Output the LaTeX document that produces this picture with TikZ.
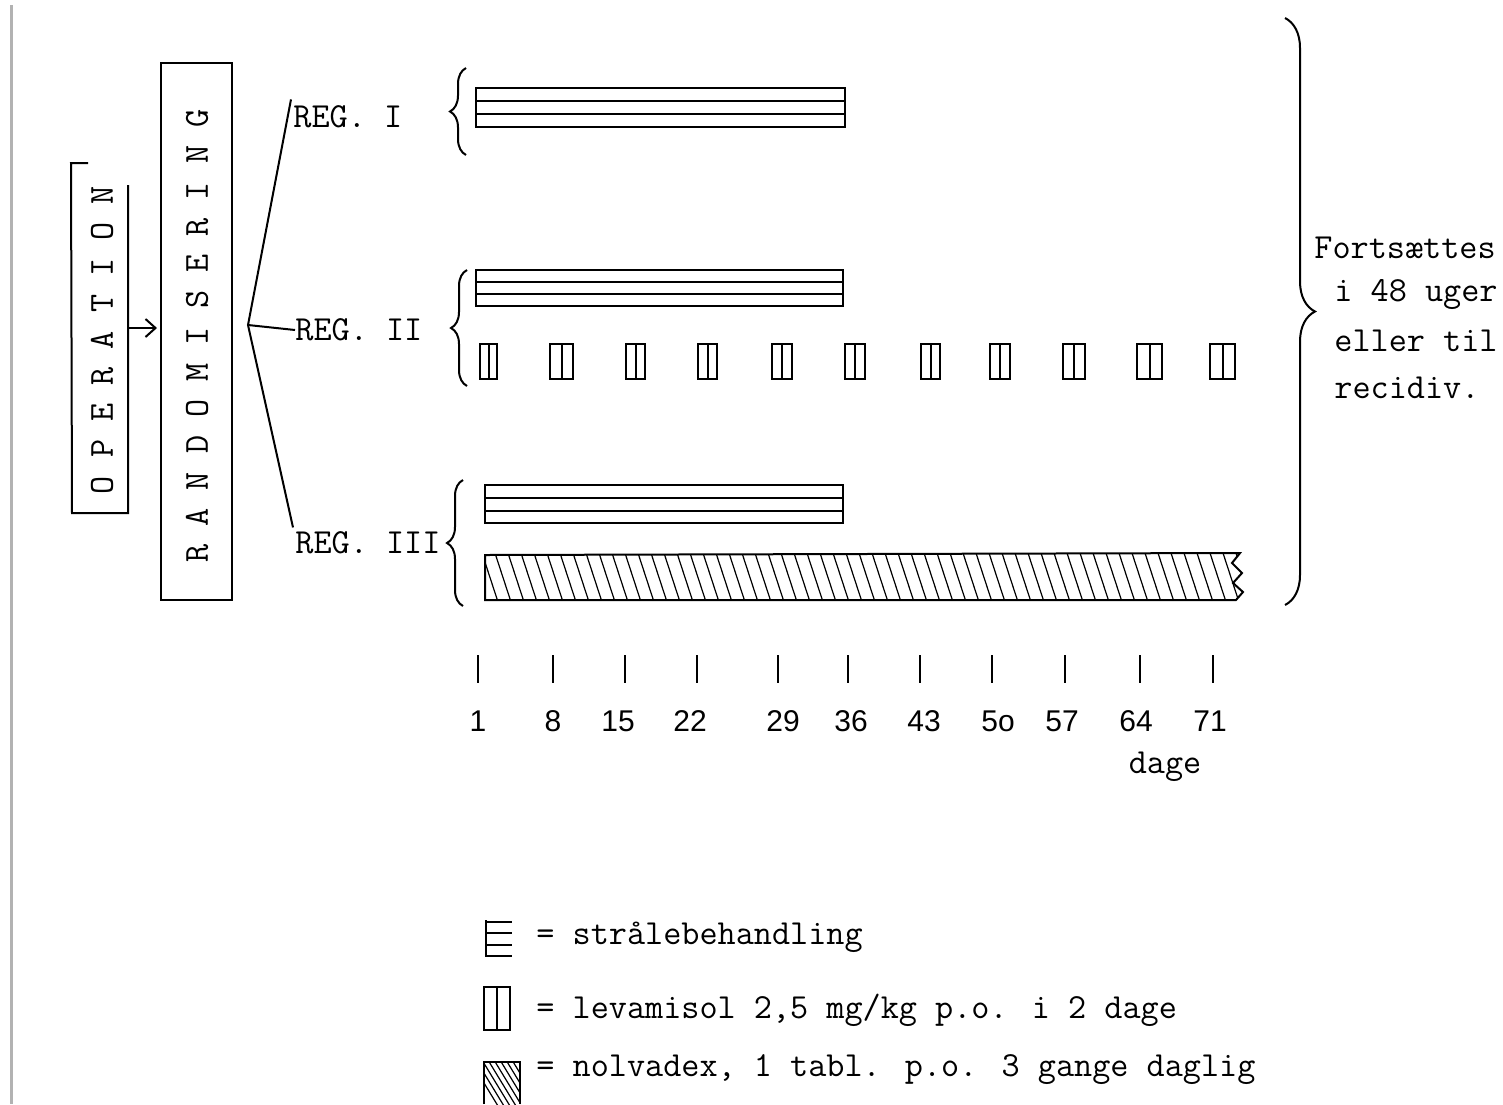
\documentclass[tikz,border=0pt]{standalone}
\usepackage{fontspec}
\newfontfamily\numfont{Liberation Sans}
\usetikzlibrary{decorations.pathreplacing,arrows.meta}
\begin{document}
\begin{tikzpicture}[x=0.5pt,y=-0.5pt,
  tw/.style={font=\fontsize{17.6}{20}\selectfont\ttfamily, inner sep=0pt},
  nums/.style={font=\fontsize{15}{18}\selectfont\numfont, inner sep=0pt},
  ln/.style={line width=1pt},
  hatch/.style={line width=0.6pt},
  bracestyle/.style={ln, decorate, decoration={brace, amplitude=#1}},
  lev/.style={ln}]
\useasboundingbox[fill=white] (0,0) rectangle (1503,1104);

% page edge
\draw[gray!60, line width=1.5pt] (11,5) -- (11,1104);

% OPERATION (open box)
\node[tw, rotate=90] (op) at (102,340) {O P E R A T I O N};
\draw[ln] (88,163) -- (71,163) -- (72,513) -- (128,513) -- (128,185);

% RANDOMISERING
\draw[ln] (161,63) rectangle (232,600);
\node[tw, rotate=90] (rand) at (197,336) {R A N D O M I S E R I N G};
\coordinate (opR) at (128,328);
\coordinate (randL) at (157,328);
\draw[ln, -{Straight Barb[length=5pt,width=9pt]}] (opR) -- (randL);

% regimen labels
\node[tw, anchor=west] (reg1) at (293,117) {REG. I};
\node[tw, anchor=west] (reg2) at (295,330) {REG. II};
\node[tw, anchor=west] (reg3) at (295,543) {REG. III};
\coordinate (br) at (248,325);
\draw[ln] ([xshift=-1pt,yshift=3pt]reg1.north west) -- (br) -- ([xshift=-1pt,yshift=2pt]reg3.north west);
\draw[ln] (br) -- (reg2.west);

% small braces
\draw[bracestyle=8pt] (466,155) -- (466,68);
\draw[bracestyle=8pt] (467,386) -- (467,270);
\draw[bracestyle=8pt] (463,606) -- (463,480);

% radiation bars
\draw[ln] (476,88) rectangle (845,127);
\draw[ln] (476,101) -- (845,101);
\draw[ln] (476,114) -- (845,114);
\draw[ln] (476,270) rectangle (843,306);
\draw[ln] (476,282) -- (843,282);
\draw[ln] (476,294) -- (843,294);
\draw[ln] (485,485) rectangle (843,523);
\draw[ln] (485,498) -- (843,498);
\draw[ln] (485,511) -- (843,511);

% levamisol boxes
\foreach \a/\b in {480/497,550/573,626/645,698/717,772/792,845/865,921/940,990/1010,1063/1085,1137/1162,1210/1235}{
  \draw[lev] (\a,344) rectangle (\b,379);
  \draw[lev] ({(\a+\b)/2},344) -- ({(\a+\b)/2},379);
}

% nolvadex bar
\begin{scope}
\clip (485,555) -- (1240,553) -- (1232,563) -- (1242,573) -- (1233,583) -- (1243,592) -- (1236,600) -- (485,600) -- cycle;
\foreach \i in {0,...,60}{
  \draw[hatch] ({468+\i*13},550) -- ({486+\i*13},605);
}
\end{scope}
\draw[ln] (485,555) -- (1240,553) -- (1232,563) -- (1242,573) -- (1233,583) -- (1243,592) -- (1236,600) -- (485,600) -- cycle;

% big brace and text
\draw[bracestyle=15pt] (1285,18) -- (1285,605);
\node[tw, anchor=west] (f1) at (1314,248) {Fortsættes};
\node[tw, anchor=west] (f2) at (1334,295) {i 48 uger};
\node[tw, anchor=west] (f3) at (1334,341) {eller til};
\node[tw, anchor=west] (f4) at (1334,388) {recidiv.};

% day ticks and numbers
\foreach \x in {478,553,625,697,778,848,920,992,1065,1140,1213}{
  \draw[ln] (\x,655) -- (\x,683);
}
\foreach \x/\t [count=\k] in {478/1,553/8,618/15,690/22,783/29,851/36,924/43,998/5o,1062/57,1136/64,1210/71}{
  \node[nums] (d\k) at (\x,721) {\t};
}
\node[tw] (dage) at (1165,767) {dage};

% legend
\draw[ln] (486,920) -- (486,957);
\foreach \y in {922,933,945,956}{ \draw[ln] (486,\y) -- (512,\y); }
\node[tw, anchor=west] (l1) at (536,937) {= strålebehandling};

\draw[ln] (484,987) rectangle (510,1030);
\draw[ln] (497,987) -- (497,1030);
\node[tw, anchor=west] (l2) at (536,1010) {= levamisol 2,5 mg/kg p.o. i 2 dage};

\begin{scope}
\clip (484,1062) rectangle (520,1104);
\foreach \i in {0,...,10}{
  \draw[hatch] ({470+\i*6},1060) -- ({498+\i*6},1106);
}
\end{scope}
\draw[ln] (484,1104) -- (484,1062) -- (520,1062) -- (520,1104);
\node[tw, anchor=west] (l3) at (536,1070) {= nolvadex, 1 tabl. p.o. 3 gange daglig};
\end{tikzpicture}
\end{document}
